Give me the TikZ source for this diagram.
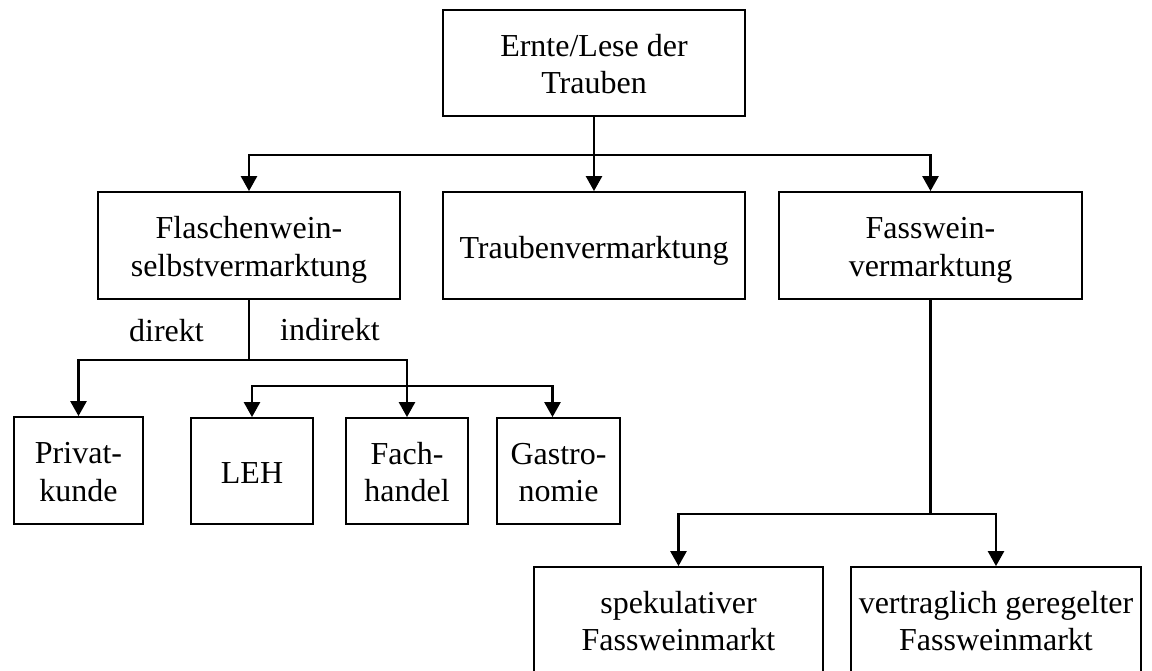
\documentclass[tikz,border=0pt]{standalone}
\usepackage{fontspec}
\setmainfont{Liberation Serif}
\usetikzlibrary{arrows.meta}

\begin{document}
\begin{tikzpicture}[x=1pt, y=-1pt,
  txt/.style={font=\fontsize{32}{37.5}\selectfont},
  box/.style={draw, line width=1.8pt, inner sep=0pt, align=center, txt,
              text depth=0pt},
  oneline/.style={box, text height=25pt},
  twoline/.style={box, text height=61pt},
  conn/.style={line width=2.5pt},
  arr/.style={conn, -{Triangle[width=16pt,length=15pt]}}
]
\useasboundingbox (0,0) rectangle (1152,670);

% first level
\node[twoline, minimum width=302pt, minimum height=106pt] (top) at (594,63)
  {Ernte/Lese der\\Trauben};

% second level
\node[twoline, minimum width=302pt, minimum height=107pt] (fl) at (249,245.5)
  {Flaschenwein-\\selbstvermarktung};
\node[oneline, minimum width=302pt, minimum height=107pt] (tr) at (594,245.5)
  {Traubenvermarktung};
\node[twoline, minimum width=303pt, minimum height=107pt] (fa) at (930.5,245.5)
  {Fasswein-\\vermarktung};

% bottle wine channels
\node[twoline, minimum width=129pt, minimum height=107pt] (pk) at (78.5,470.5)
  {Privat-\\kunde};
\node[oneline, minimum width=122pt, minimum height=106pt] (leh) at (252,471)
  {LEH};
\node[twoline, minimum width=122pt, minimum height=106pt] (fh) at (407,471)
  {Fach-\\handel};
\node[twoline, minimum width=123pt, minimum height=106pt] (ga) at (558.5,471)
  {Gastro-\\nomie};

% bulk wine markets
\node[twoline, minimum width=289pt, minimum height=106pt] (sp) at (678.5,620)
  {spekulativer\\Fassweinmarkt};
\node[twoline, minimum width=290pt, minimum height=106pt] (vg) at (996,620)
  {vertraglich geregelter\\Fassweinmarkt};

% branch labels
\node[txt, anchor=base, inner sep=0pt] (ldir) at (166.5,341) {direkt};
\node[txt, anchor=base, inner sep=0pt] (lind) at (330,340) {indirekt};

% junctions
\coordinate (j1) at (594,155);
\coordinate (j2) at (249,360);
\coordinate (j3) at (407,386);
\coordinate (j4) at (930.5,514);

% connectors
\draw[arr] (top.south) -- (tr.north);
\draw[arr] (j1) -| (fl.north);
\draw[arr] (j1) -| (fa.north);

\draw[conn] (fl.south) -- (j2);
\draw[arr] (j2) -| (pk.north);
\draw[arr] (j2) -| (fh.north);
\draw[arr] (j3) -| (leh.north);
\draw[arr] (j3) -| ([xshift=-6pt]ga.north);

\draw[conn] (fa.south) -- (j4);
\draw[arr] (j4) -| (sp.north);
\draw[arr] (j4) -| (vg.north);
\end{tikzpicture}
\end{document}
